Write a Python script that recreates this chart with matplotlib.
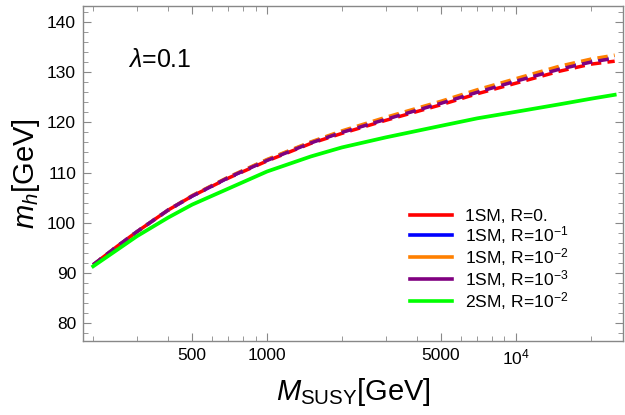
import numpy as np
import matplotlib
matplotlib.use("Agg")
import matplotlib.pyplot as plt
from matplotlib.lines import Line2D
from matplotlib.ticker import FixedLocator, NullFormatter

plt.rcParams['font.family'] = ['Liberation Sans', 'DejaVu Sans']
plt.rcParams['mathtext.fontset'] = 'custom'
plt.rcParams['mathtext.rm'] = 'Liberation Sans'
plt.rcParams['mathtext.it'] = 'Liberation Sans:italic'

# SUSY scale (GeV)
m_susy = [200, 250, 300, 400, 500, 700, 1000, 1500, 2000, 3000, 5000, 7000, 10000, 15000, 20000, 25000]

# Higgs mass (GeV) for each scenario
mh_1sm_r0 = [91.6, 95.3, 98.2, 102.5, 105.3, 108.9, 112.3, 115.8, 117.8, 120.4, 123.5, 125.7, 127.8, 130.2, 131.6, 132.2]
mh_1sm_r1 = [91.6, 95.3, 98.2, 102.5, 105.3, 109.0, 112.5, 116.0, 118.1, 120.7, 123.9, 126.1, 128.4, 130.8, 132.2, 133.0]
mh_1sm_r2 = [91.6, 95.3, 98.2, 102.5, 105.4, 109.1, 112.6, 116.1, 118.3, 121.0, 124.2, 126.5, 128.7, 131.2, 132.6, 133.4]
mh_1sm_r3 = [91.6, 95.3, 98.2, 102.5, 105.3, 109.0, 112.4, 115.9, 118.0, 120.6, 123.8, 126.0, 128.2, 130.6, 132.0, 132.8]
mh_2sm_r2 = [91.3, 94.6, 97.3, 101.0, 103.6, 106.8, 110.2, 113.2, 115.0, 117.0, 119.3, 120.8, 122.1, 123.6, 124.7, 125.5]

labels = ["1SM, R=0.", "1SM, R=$10^{-1}$", "1SM, R=$10^{-2}$", "1SM, R=$10^{-3}$", "2SM, R=$10^{-2}$"]
colors = ["#ff0000", "#0000ff", "#ff8000", "#800080", "#00ff00"]

fig = plt.figure(figsize=(6.25, 4.15), dpi=100)
ax = fig.add_axes([0.1328, 0.1783, 0.8640, 0.8072])

dash = (3.0, 1.8)
ax.plot(m_susy, mh_1sm_r0, color=colors[0], lw=2.5, linestyle=(2.4, dash))
ax.plot(m_susy, mh_1sm_r1, color=colors[1], lw=2.5, linestyle=(0, dash))
ax.plot(m_susy, mh_1sm_r2, color=colors[2], lw=2.5, linestyle=(0, dash))
ax.plot(m_susy, mh_1sm_r3, color=colors[3], lw=2.5, linestyle=(0, dash))
ax.plot(m_susy, mh_2sm_r2, color=colors[4], lw=2.7)

ax.set_xscale('log')
ax.set_xlim(182, 27000)
ax.set_ylim(76.4, 143.2)

ax.xaxis.set_major_locator(FixedLocator([500, 1000, 5000, 10000]))
ax.set_xticklabels(['500', '1000', '5000', '$10^4$'])
minor_x = [200, 300, 400, 600, 700, 800, 900, 2000, 3000, 4000, 6000, 7000, 8000, 9000, 20000]
ax.xaxis.set_minor_locator(FixedLocator(minor_x))
ax.xaxis.set_minor_formatter(NullFormatter())
ax.set_yticks([80, 90, 100, 110, 120, 130, 140])
ax.yaxis.set_minor_locator(FixedLocator(np.arange(78, 144, 2)))

for s in ax.spines.values():
    s.set_color('#888888')
    s.set_linewidth(1.0)
ax.tick_params(which='both', direction='in', top=True, right=True, color='#888888',
               labelsize=12.5, labelcolor='black')
ax.tick_params(which='major', length=6, width=0.8, pad=5)
ax.tick_params(which='minor', length=3.5, width=0.6)

ax.set_xlabel(r'$M_{\mathrm{SUSY}}$[GeV]', fontsize=21, labelpad=6)
ax.set_ylabel(r'$m_h$[GeV]', fontsize=21, labelpad=4)

ax.text(0.083, 0.818, r'$\lambda$=0.1', transform=ax.transAxes, fontsize=18)

handles = [Line2D([0], [0], color=c, lw=2.6) for c in colors]
ax.legend(handles, labels, loc='upper left', frameon=False, fontsize=12.6,
          handlelength=2.4, handletextpad=0.7, labelspacing=0.0, borderpad=0,
          bbox_to_anchor=(0.59, 0.42))

fig.savefig('out.png', dpi=100)
